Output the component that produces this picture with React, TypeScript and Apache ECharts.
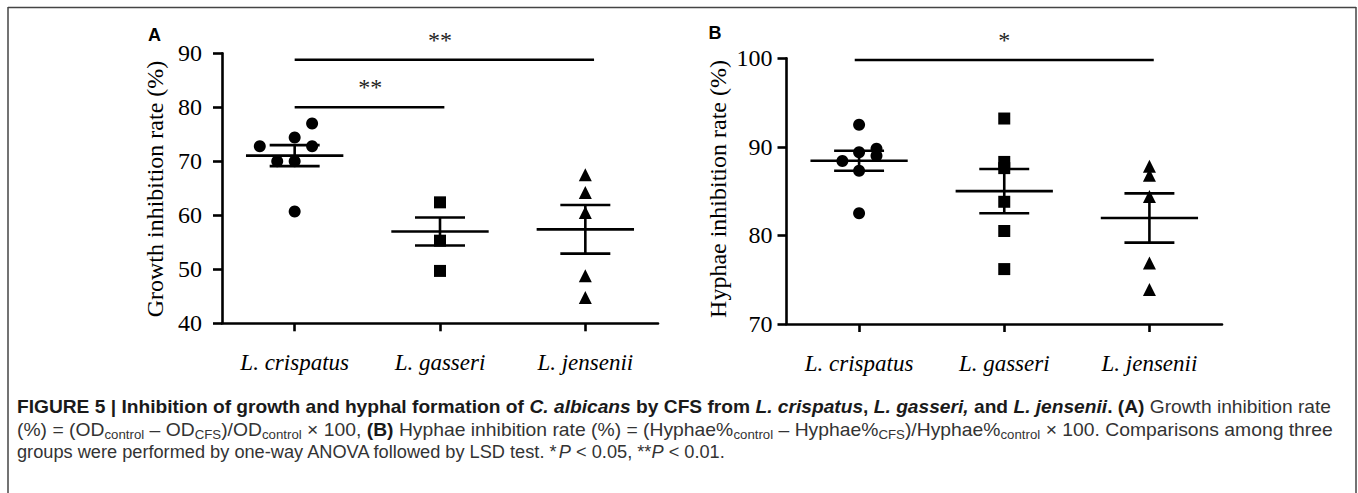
import React, { useEffect, useRef } from "react";
import * as echarts from "echarts";

// ---------- data ----------
const categories = ["L. crispatus", "L. gasseri", "L. jensenii"];

// Panel A: growth inhibition rate (%) — [category position (with jitter), value]
const aCrispatus = [[-0.24, 72.8], [-0.12, 70.0], [0, 70.0], [0, 74.4], [0.12, 72.8], [0.12, 77.0], [0, 60.7]];
const aGasseri = [[1, 62.4], [1, 55.3], [1, 49.7]];
const aJensenii = [[2, 67.5], [2, 64.2], [2, 60.5], [2, 48.8], [2, 44.8]];
const aMean = [71.05, 57.0, 57.4];
const aSem = [1.95, 2.6, 4.5];
// [from, to, y, label, label position]
const aSig = [[0, 2.06, 88.8, "**", 1.0], [0, 1.03, 80.0, "**", 0.52]];

// Panel B: hyphae inhibition rate (%)
const bCrispatus = [[0, 92.5], [0, 89.4], [0.12, 89.8], [0.12, 89.0], [-0.115, 88.4], [0, 87.3], [0, 82.5]];
const bGasseri = [[1, 93.2], [1, 88.3], [1, 87.6], [1, 83.8], [1, 80.5], [1, 76.2]];
const bJensenii = [[2, 87.8], [2, 86.8], [2, 84.4], [2, 76.9], [2, 73.9]];
const bMean = [88.43, 85.0, 81.97];
const bSem = [1.13, 2.5, 2.78];
const bSig = [[-0.03, 2.03, 99.8, "*", 1.0]];

const aTicks = { min: 40, max: 90, interval: 10 };
const bTicks = { min: 70, max: 100, interval: 10 };

// caption segments [style, text]
const captionLine1: [string, string][] = [
  ["b", "FIGURE 5 | Inhibition of growth and hyphal formation of "],
  ["bi", "C. albicans"],
  ["b", " by CFS from "],
  ["bi", "L. crispatus"],
  ["b", ", "],
  ["bi", "L. gasseri,"],
  ["b", " and "],
  ["bi", "L. jensenii"],
  ["b", ". (A)"],
  ["r", " Growth inhibition rate"],
];
const captionLine2: [string, string][] = [
  ["r", "(%) = (OD"],
  ["sub", "control"],
  ["r", " \u2013 OD"],
  ["sub", "CFS"],
  ["r", ")/OD"],
  ["sub", "control"],
  ["r", " \u00d7 100, "],
  ["b", "(B)"],
  ["r", " Hyphae inhibition rate (%) = (Hyphae%"],
  ["sub", "control"],
  ["r", " \u2013 Hyphae%"],
  ["sub", "CFS"],
  ["r", ")/Hyphae%"],
  ["sub", "control"],
  ["r", " \u00d7 100. Comparisons among three"],
];
const captionLine3: [string, string][] = [
  ["r", "groups were performed by one-way ANOVA followed by LSD test. *"],
  ["i", "P"],
  ["r", " < 0.05, **"],
  ["i", "P"],
  ["r", " < 0.01."],
];

const SERIF = "Liberation Serif";
const SANS = "Liberation Sans";
const CAP_SIZE = 17.5;
const SUB_SIZE = 12;

const capFonts: Record<string, string> = {
  b: `bold ${CAP_SIZE}px "${SANS}"`,
  bi: `italic bold ${CAP_SIZE}px "${SANS}"`,
  r: `${CAP_SIZE}px "${SANS}"`,
  i: `italic ${CAP_SIZE}px "${SANS}"`,
  sub: `${SUB_SIZE}px "${SANS}"`,
};

function measure(segs: [string, string][]) {
  const ctx = document.createElement("canvas").getContext("2d");
  if (!ctx) return 1;
  let w = 0;
  for (const [s, t] of segs) {
    ctx.font = capFonts[s];
    w += ctx.measureText(t).width;
  }
  return w;
}

const richText = (segs: [string, string][]) =>
  segs.map(([s, t]) => `{${s}|${t.replace(/[{}]/g, "")}}`).join("");

const capRich = {
  b: { fontFamily: SANS, fontSize: CAP_SIZE, fontWeight: "bold", fill: "#1a1a1a", lineHeight: 22 },
  bi: { fontFamily: SANS, fontSize: CAP_SIZE, fontWeight: "bold", fontStyle: "italic", fill: "#1a1a1a", lineHeight: 22 },
  r: { fontFamily: SANS, fontSize: CAP_SIZE, fill: "#333", lineHeight: 22 },
  i: { fontFamily: SANS, fontSize: CAP_SIZE, fontStyle: "italic", fill: "#333", lineHeight: 22 },
  sub: { fontFamily: SANS, fontSize: SUB_SIZE, fill: "#333", lineHeight: 11, verticalAlign: "bottom" },
};

function captionText(segs: [string, string][], x: number, y: number, targetW: number) {
  const w = measure(segs);
  return {
    type: "text",
    x,
    y,
    scaleX: targetW / w,
    style: {
      text: richText(segs),
      rich: capRich,
      align: "left",
      verticalAlign: "middle",
    },
  };
}

const axisColor = "#000";

function meanSemRender(params: any, api: any) {
  const x = api.value(0);
  const m = api.value(1);
  const s = api.value(2);
  const pm = api.coord([x, m]);
  const pu = api.coord([x, m + s]);
  const pl = api.coord([x, m - s]);
  const unit = api.size([1, 0])[0];
  const hw = unit * 0.335;
  const cw = unit * 0.172;
  const st = { stroke: "#000", lineWidth: 2.6 };
  return {
    type: "group",
    children: [
      { type: "line", shape: { x1: pm[0] - hw, y1: pm[1], x2: pm[0] + hw, y2: pm[1] }, style: st },
      { type: "line", shape: { x1: pu[0], y1: pu[1], x2: pl[0], y2: pl[1] }, style: st },
      { type: "line", shape: { x1: pu[0] - cw, y1: pu[1], x2: pu[0] + cw, y2: pu[1] }, style: st },
      { type: "line", shape: { x1: pl[0] - cw, y1: pl[1], x2: pl[0] + cw, y2: pl[1] }, style: st },
    ],
  };
}

function sigRender(labels: any[]) {
  return (params: any, api: any) => {
    const x1 = api.value(0);
    const x2 = api.value(1);
    const y = api.value(2);
    const lx = api.value(3);
    const p1 = api.coord([x1, y]);
    const p2 = api.coord([x2, y]);
    const pl = api.coord([lx, y]);
    return {
      type: "group",
      children: [
        { type: "line", shape: { x1: p1[0], y1: p1[1], x2: p2[0], y2: p2[1] }, style: { stroke: "#000", lineWidth: 2.6 } },
        {
          type: "text",
          x: pl[0],
          y: p1[1] - 20,
          style: {
            text: labels[params.dataIndex],
            fontFamily: SERIF,
            fontSize: 24,
            fill: "#222",
            align: "center",
            verticalAlign: "middle",
          },
        },
      ],
    };
  };
}

function catAxis(gridIndex: number) {
  return {
    type: "category",
    gridIndex,
    data: categories,
    boundaryGap: true,
    axisLine: { show: true, onZero: false, lineStyle: { color: axisColor, width: 2.6 } },
    axisTick: { show: true, alignWithLabel: true, length: 8, lineStyle: { color: axisColor, width: 2.6 } },
    axisLabel: { fontFamily: SERIF, fontStyle: "italic", fontSize: 23, color: "#000", margin: 28 },
    splitLine: { show: false },
  };
}

function valAxis(gridIndex: number, t: any, margin: number) {
  return {
    type: "value",
    gridIndex,
    min: t.min,
    max: t.max,
    interval: t.interval,
    axisLine: { show: true, onZero: false, lineStyle: { color: axisColor, width: 2.6 } },
    axisTick: { show: true, length: 9, lineStyle: { color: axisColor, width: 2.6 } },
    axisLabel: { fontFamily: SERIF, fontSize: 24, color: "#000", margin },
    splitLine: { show: false },
  };
}

function scatter(data: number[][], symbol: string, size: number, xi: number, yi: number) {
  return {
    type: "scatter",
    data,
    symbol,
    symbolSize: size,
    xAxisIndex: xi,
    yAxisIndex: yi,
    itemStyle: { color: "#000", opacity: 1 },
    z: 3,
  };
}

export default function App() {
  const ref = useRef<HTMLDivElement>(null);
  useEffect(() => {
    document.body.style.margin = "0";
    if (!ref.current) return;
    const chart = echarts.init(ref.current, null, { renderer: "svg", width: 1358, height: 493 });
    const option: any = {
      animation: false,
      backgroundColor: "#fff",
      grid: [
        { left: 222, top: 53.3, width: 436, height: 270 },
        { left: 786.5, top: 58.3, width: 435.5, height: 265.7 },
      ],
      xAxis: [
        catAxis(0),
        catAxis(1),
        { type: "value", gridIndex: 0, min: -0.5, max: 2.5, show: false },
        { type: "value", gridIndex: 1, min: -0.5, max: 2.5, show: false },
      ],
      yAxis: [valAxis(0, aTicks, 20), valAxis(1, bTicks, 14)],
      series: [
        scatter(aCrispatus, "circle", 12, 2, 0),
        scatter(aGasseri, "rect", 12, 2, 0),
        scatter(aJensenii, "triangle", 13, 2, 0),
        scatter(bCrispatus, "circle", 12, 3, 1),
        scatter(bGasseri, "rect", 12, 3, 1),
        scatter(bJensenii, "triangle", 13, 3, 1),
        {
          type: "custom",
          xAxisIndex: 2,
          yAxisIndex: 0,
          clip: false,
          z: 4,
          data: aMean.map((m, i) => [i, m, aSem[i]]),
          encode: { x: 0, y: 1 },
          renderItem: meanSemRender,
        },
        {
          type: "custom",
          xAxisIndex: 3,
          yAxisIndex: 1,
          clip: false,
          z: 4,
          data: bMean.map((m, i) => [i, m, bSem[i]]),
          encode: { x: 0, y: 1 },
          renderItem: meanSemRender,
        },
        {
          type: "custom",
          xAxisIndex: 2,
          yAxisIndex: 0,
          clip: false,
          data: aSig.map((d) => [d[0], d[1], d[2], d[4]]),
          encode: { x: 0, y: 2 },
          renderItem: sigRender(aSig.map((d) => d[3])),
        },
        {
          type: "custom",
          xAxisIndex: 3,
          yAxisIndex: 1,
          clip: false,
          data: bSig.map((d) => [d[0], d[1], d[2], d[4]]),
          encode: { x: 0, y: 2 },
          renderItem: sigRender(bSig.map((d) => d[3])),
        },
      ],
      graphic: [
        // frame
        { type: "line", shape: { x1: 8, y1: 7.5, x2: 1356, y2: 7.5 }, style: { stroke: "#444", lineWidth: 1.5 } },
        { type: "line", shape: { x1: 8, y1: 7, x2: 8, y2: 493 }, style: { stroke: "#444", lineWidth: 1.5 } },
        { type: "line", shape: { x1: 1356, y1: 7, x2: 1356, y2: 493 }, style: { stroke: "#444", lineWidth: 1.5 } },
        // panel letters
        { type: "text", x: 154.5, y: 34.5, style: { text: "A", fontFamily: SANS, fontWeight: "bold", fontSize: 18, fill: "#000", align: "center", verticalAlign: "middle" } },
        { type: "text", x: 715, y: 33, style: { text: "B", fontFamily: SANS, fontWeight: "bold", fontSize: 18, fill: "#000", align: "center", verticalAlign: "middle" } },
        // axis titles
        { type: "text", x: 155, y: 189, rotation: Math.PI / 2, style: { text: "Growth inhibition rate (%)", fontFamily: SERIF, fontSize: 24, fill: "#000", align: "center", verticalAlign: "middle" } },
        { type: "text", x: 718, y: 189, rotation: Math.PI / 2, style: { text: "Hyphae inhibition rate (%)", fontFamily: SERIF, fontSize: 24, fill: "#000", align: "center", verticalAlign: "middle" } },
        // caption
        captionText(captionLine1, 17, 407, 1314),
        captionText(captionLine2, 17, 430, 1316),
        captionText(captionLine3, 17, 452, 708),
      ],
    };
    chart.setOption(option);
    return () => chart.dispose();
  }, []);
  return <div ref={ref} style={{ width: 1358, height: 493 }} />;
}
